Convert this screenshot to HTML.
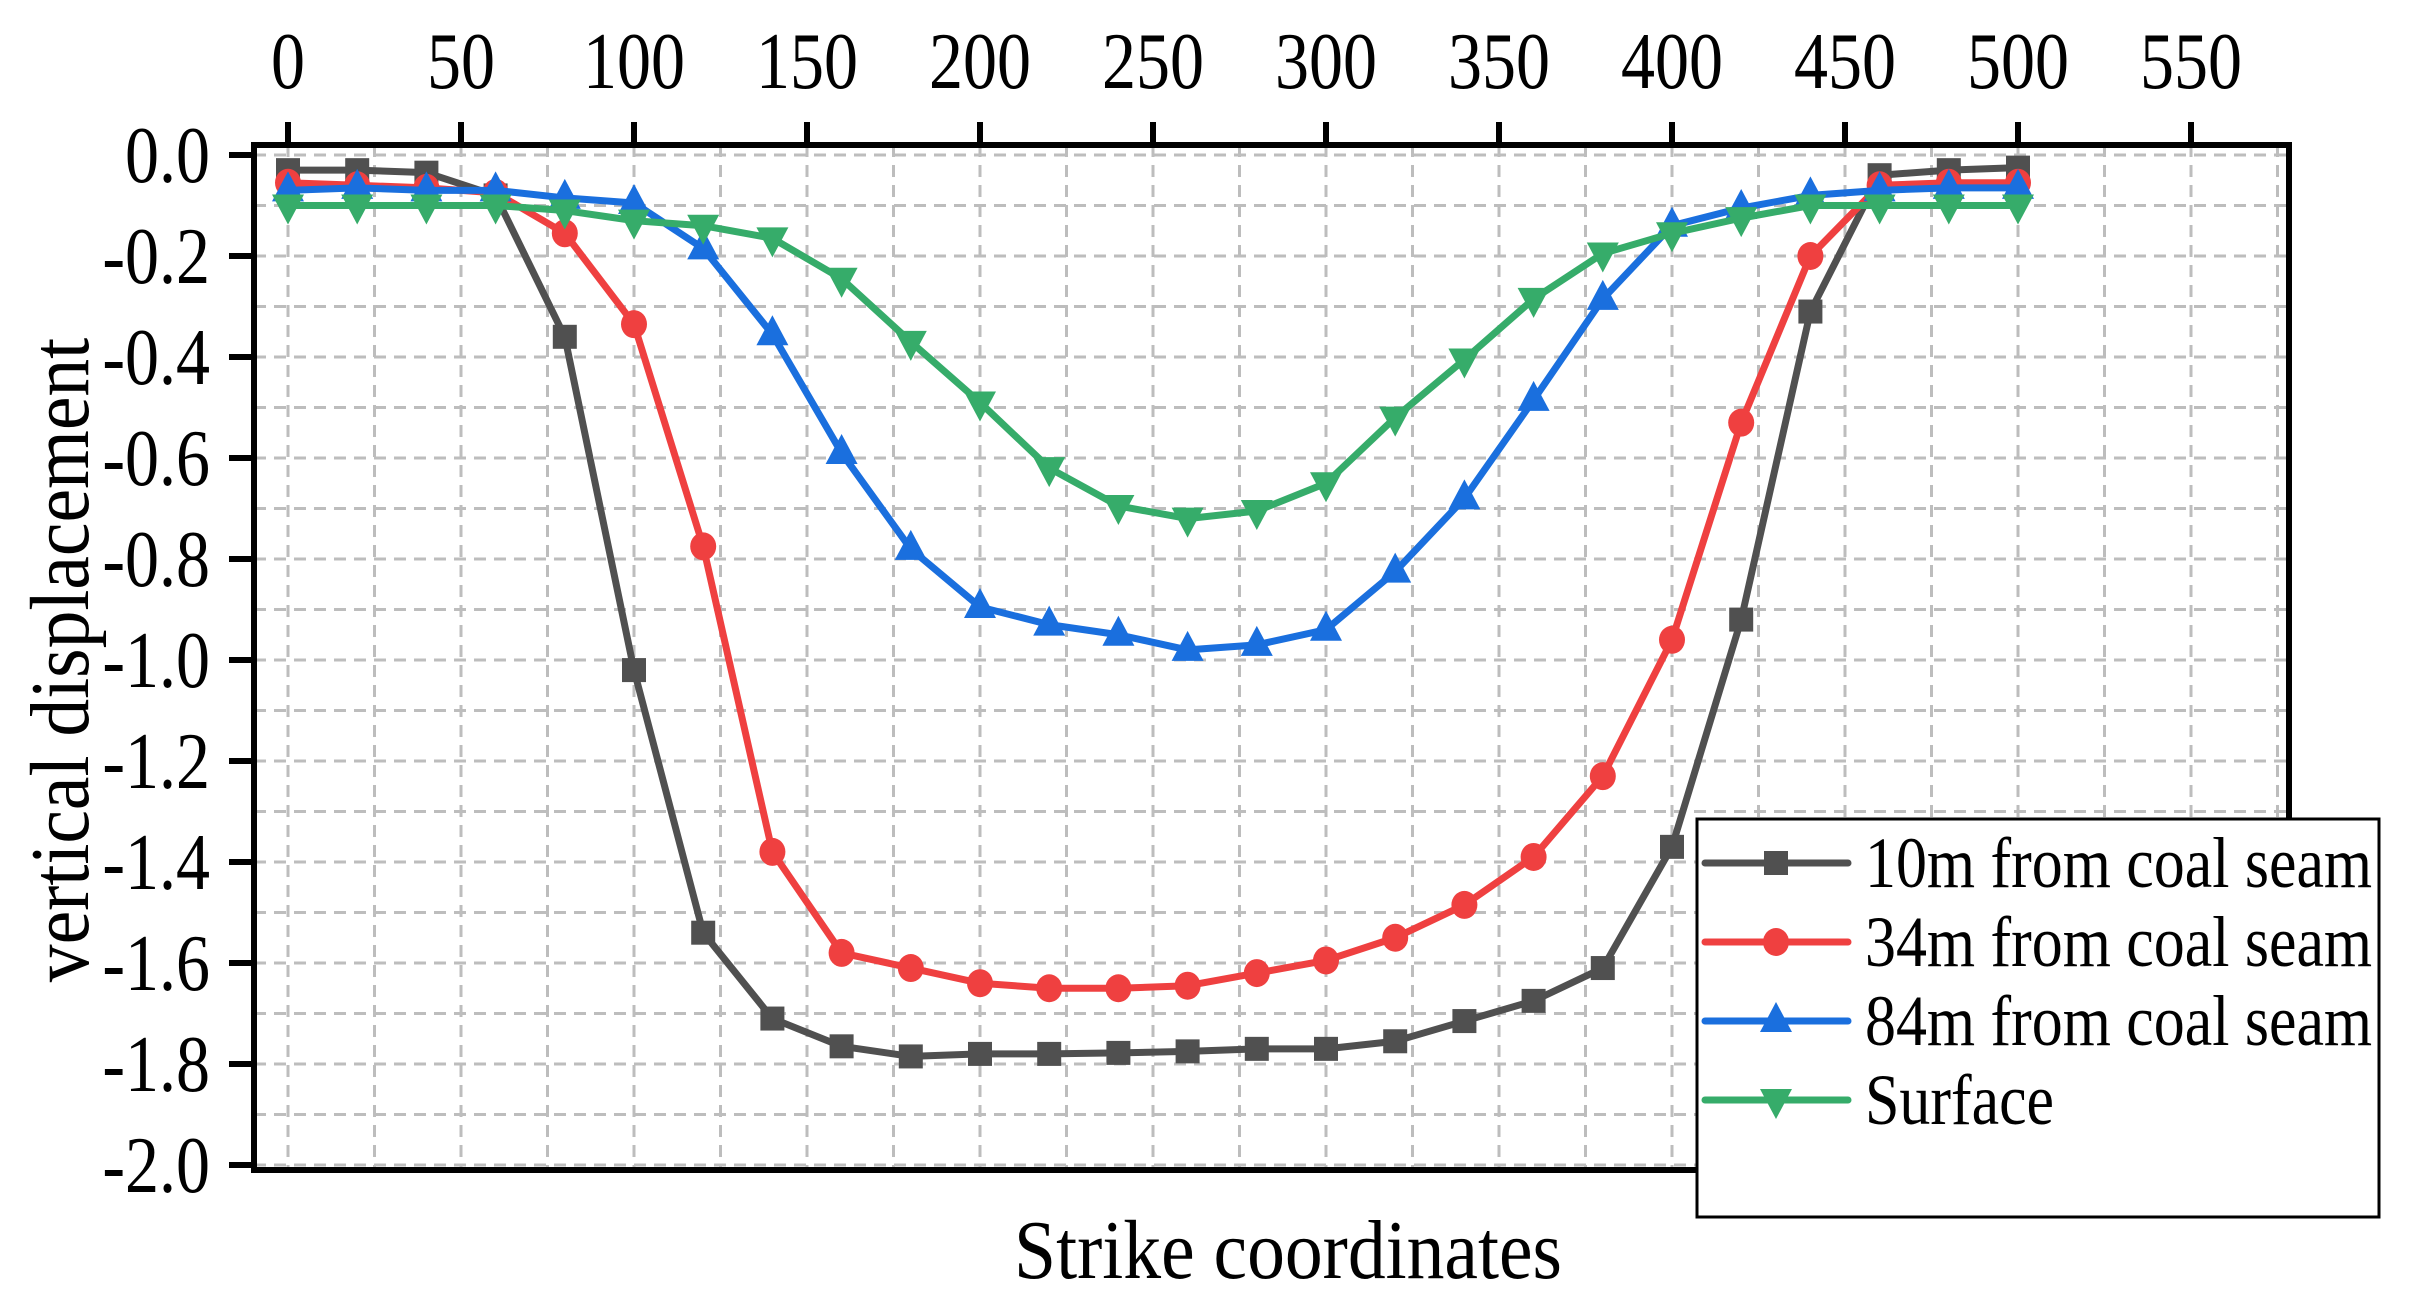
<!DOCTYPE html>
<html><head><meta charset="utf-8"><style>
html,body{margin:0;padding:0;background:#fff}
svg{display:block;font-family:"Liberation Serif",serif}
</style></head><body>
<svg id="chart" width="2425" height="1293" viewBox="0 0 2425 1293" xmlns="http://www.w3.org/2000/svg">
<g id="grid"></g>
<g id="series"></g>
<g id="axes"></g>
<g id="legend"></g>
</svg>
<script>
const xValues=[0,20,40,60,80,100,120,140,160,180,200,220,240,260,280,300,320,340,360,380,400,420,440,460,480,500];
const s10=[-0.03,-0.03,-0.035,-0.08,-0.36,-1.02,-1.54,-1.71,-1.765,-1.785,-1.78,-1.78,-1.778,-1.775,-1.77,-1.77,-1.755,-1.715,-1.675,-1.61,-1.37,-0.92,-0.31,-0.04,-0.03,-0.025];
const s34=[-0.055,-0.06,-0.065,-0.075,-0.155,-0.335,-0.775,-1.38,-1.58,-1.61,-1.64,-1.65,-1.65,-1.645,-1.62,-1.595,-1.55,-1.485,-1.39,-1.23,-0.96,-0.53,-0.2,-0.06,-0.055,-0.055];
const s84=[-0.07,-0.065,-0.07,-0.07,-0.085,-0.095,-0.185,-0.355,-0.59,-0.78,-0.895,-0.93,-0.95,-0.98,-0.97,-0.94,-0.825,-0.68,-0.485,-0.285,-0.14,-0.105,-0.08,-0.07,-0.065,-0.065];
const sSurf=[-0.1,-0.1,-0.1,-0.1,-0.11,-0.13,-0.14,-0.165,-0.245,-0.37,-0.49,-0.62,-0.695,-0.72,-0.705,-0.65,-0.52,-0.405,-0.285,-0.195,-0.155,-0.125,-0.1,-0.1,-0.1,-0.1];
const seriesNames=["10m from coal seam","34m from coal seam","84m from coal seam","Surface"];
const xTicks=[0,50,100,150,200,250,300,350,400,450,500,550];
const yTicks=[0,-0.2,-0.4,-0.6,-0.8,-1.0,-1.2,-1.4,-1.6,-1.8,-2.0];

const NS="http://www.w3.org/2000/svg";
const L=254,R=2289,T=145,B=1170;
const X=v=>288+v*3.46;
const Y=v=>155-v*505;
function mk(tag,attrs,parent,text){const e=document.createElementNS(NS,tag);for(const k in attrs)e.setAttribute(k,attrs[k]);if(text!==undefined)e.textContent=text;parent.appendChild(e);return e;}
function txt(x,y,size,sx,anchor,str,parent,rot){return mk('text',{x:0,y:0,'font-size':size,'text-anchor':anchor,transform:`translate(${x},${y})${rot?' rotate(-90)':''} scale(${sx},1)`},parent,str);}
const grid=document.getElementById('grid'),axes=document.getElementById('axes'),ser=document.getElementById('series'),leg=document.getElementById('legend');
for(let v=0;v<=575;v+=25){const l=mk('line',{x1:X(v),x2:X(v),y1:T,y2:B,stroke:'#bdbdbd','stroke-width':3,'stroke-dasharray':'12 8'},grid);

}
for(let i=0;i<=20;i++){const v=-i*0.1;const l=mk('line',{x1:L,x2:R,y1:Y(v),y2:Y(v),stroke:'#bdbdbd','stroke-width':3,'stroke-dasharray':'12 8'},grid);

}
const colors=['#505050','#ef4040','#1a6fde','#36ac6a'];
const data=[s10,s34,s84,sSurf];
function marker(kind,cx,cy,col,p){let e;
 if(kind===0)e=mk('rect',{x:cx-12,y:cy-12,width:24,height:24,fill:col},p);
 else if(kind===1)e=mk('ellipse',{cx:cx,cy:cy,rx:13,ry:14,fill:col},p);
 else if(kind===2)e=mk('polygon',{points:`${cx},${cy-19} ${cx-16},${cy+11} ${cx+16},${cy+11}`,fill:col},p);
 else e=mk('polygon',{points:`${cx},${cy+19} ${cx-16},${cy-11} ${cx+16},${cy-11}`,fill:col},p);
 return e;}
data.forEach((arr,si)=>{const g=mk('g',{},ser);
 
 
 const pts=arr.map((v,i)=>X(xValues[i])+','+Y(v)).join(' ');
 const pl=mk('polyline',{points:pts,fill:'none',stroke:colors[si],'stroke-width':7,'stroke-linejoin':'round'},g);
 
 
 arr.forEach((v,i)=>{const m=marker(si,X(xValues[i]),Y(v),colors[si],g);
  
  });
});
const frame=mk('rect',{x:L,y:T,width:R-L,height:B-T,fill:'none',stroke:'#000','stroke-width':6},axes);


xTicks.forEach(v=>{const t=mk('line',{x1:X(v),x2:X(v),y1:122,y2:T,stroke:'#000','stroke-width':6},axes);
 
 
 const tx=txt(X(v),88,80,0.85,'middle',String(v),axes);
 
 });
yTicks.forEach(v=>{const t=mk('line',{x1:229,x2:L,y1:Y(v),y2:Y(v),stroke:'#000','stroke-width':6},axes);
 
 
 const tx=txt(210,Y(v)+27,80,0.85,'end',v.toFixed(1),axes);
 
 });
const xt=txt(1288,1278,84,0.9,'middle','Strike coordinates',axes);


const yt=txt(88,660,84,0.9,'middle','vertical displacement',axes,true);


const box=mk('rect',{x:1697,y:819,width:682,height:398,fill:'#fff',stroke:'#000','stroke-width':3},leg);


seriesNames.forEach((n,i)=>{const y=863+i*79;const g=mk('g',{},leg);
 
 
 mk('line',{x1:1705,x2:1848,y1:y,y2:y,stroke:colors[i],'stroke-width':7,'stroke-linecap':'round'},g);
 marker(i,1776,y,colors[i],g);
 txt(1865,y+24,72,0.86,'start',n,g);});
</script>
</body></html>
